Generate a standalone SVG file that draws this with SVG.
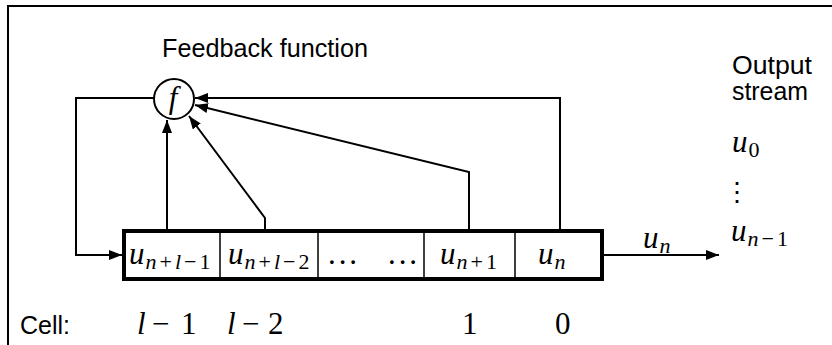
<svg xmlns="http://www.w3.org/2000/svg" width="832" height="345" viewBox="0 0 832 345">
<style>
.ln{fill:none;stroke:#000;stroke-width:2}
.sans{font-family:"Liberation Sans","DejaVu Sans",sans-serif;font-size:25px;fill:#000}
.m{font-family:"Liberation Serif","DejaVu Serif",serif;font-style:italic;font-size:31px;fill:#000}
.s{font-size:22px}
.r{font-style:normal}
</style>
<defs>
<marker id="ah" markerUnits="userSpaceOnUse" markerWidth="14" markerHeight="10" refX="13" refY="5" orient="auto">
<path d="M0,0 L13,5 L0,10 z" fill="#000"/>
</marker>
</defs>
<rect width="832" height="345" fill="#fff"/>
<path class="ln" d="M8,345 V6 H832"/>
<g id="connectors">
<path class="ln" d="M154,98 H76 V255 H122" marker-end="url(#ah)"/>
<path class="ln" d="M167,229 V120" marker-end="url(#ah)"/>
<path class="ln" d="M265,229 V218 L189,116" marker-end="url(#ah)"/>
<path class="ln" d="M469,229 V172 L195,105" marker-end="url(#ah)"/>
<path class="ln" d="M560,229 V98 H195" marker-end="url(#ah)"/>
<path class="ln" d="M604,255 H719" marker-end="url(#ah)"/>
</g>
<g id="f-node">
<circle cx="174" cy="99" r="20" fill="#fff" stroke="#000" stroke-width="2"/>
<text class="m" x="173" y="108" text-anchor="middle" font-size="27">f</text>
</g>
<g id="register">
<rect x="124" y="231" width="478" height="48" fill="#fff" stroke="#000" stroke-width="4"/>
<path d="M220,233 V277 M318,233 V277 M424,233 V277 M515,233 V277" stroke="#000" stroke-width="1.5"/>
</g>
<g id="cell-l1"><text class="m" x="129" y="264">u<tspan class="s" dx="1" dy="5">n</tspan><tspan class="s r" dx="3">+</tspan><tspan class="s" dx="3">l</tspan><tspan class="s r" dx="3">−</tspan><tspan class="s r" dx="3">1</tspan></text></g>
<g id="cell-l2"><text class="m" x="228" y="264">u<tspan class="s" dx="1" dy="5">n</tspan><tspan class="s r" dx="3">+</tspan><tspan class="s" dx="3">l</tspan><tspan class="s r" dx="3">−</tspan><tspan class="s r" dx="3">2</tspan></text></g>
<g id="cell-dots">
<text class="m r" x="328" y="264" textLength="29" lengthAdjust="spacing">...</text>
<text class="m r" x="388" y="264" textLength="29" lengthAdjust="spacing">...</text>
</g>
<g id="cell-1"><text class="m" x="440" y="264">u<tspan class="s" dx="1" dy="5">n</tspan><tspan class="s r" dx="3">+</tspan><tspan class="s r" dx="3">1</tspan></text></g>
<g id="cell-0"><text class="m" x="538" y="264">u<tspan class="s" dx="1" dy="5">n</tspan></text></g>
<g id="feedback-label"><text class="sans" x="162" y="57" textLength="206" lengthAdjust="spacingAndGlyphs">Feedback function</text></g>
<g id="output-label">
<text class="sans" x="732" y="74" font-size="23" textLength="80" lengthAdjust="spacingAndGlyphs">Output</text>
<text class="sans" x="732" y="100" font-size="23" textLength="76" lengthAdjust="spacingAndGlyphs">stream</text>
</g>
<g id="arrow-label"><text class="m" x="643" y="248">u<tspan class="s" dx="1" dy="5">n</tspan></text></g>
<g id="stream">
<text class="m" x="732" y="152">u<tspan class="s r" dx="1" dy="5">0</tspan></text>
<text x="737" y="201" text-anchor="middle" font-family="'DejaVu Serif',serif" font-size="26">⋮</text>
<text class="m" x="731" y="241">u<tspan class="s" dx="1" dy="5">n</tspan><tspan class="s r" dx="3">−</tspan><tspan class="s r" dx="3">1</tspan></text>
</g>
<g id="cell-numbers">
<text class="sans" x="20" y="334">Cell:</text>
<text class="m" y="334"><tspan x="137">l</tspan><tspan class="r" x="152">−</tspan><tspan class="r" x="181">1</tspan></text>
<text class="m" y="334"><tspan x="227">l</tspan><tspan class="r" x="242">−</tspan><tspan class="r" x="268">2</tspan></text>
<text class="m r" x="462" y="334">1</text>
<text class="m r" x="555" y="334">0</text>
</g>
</svg>
